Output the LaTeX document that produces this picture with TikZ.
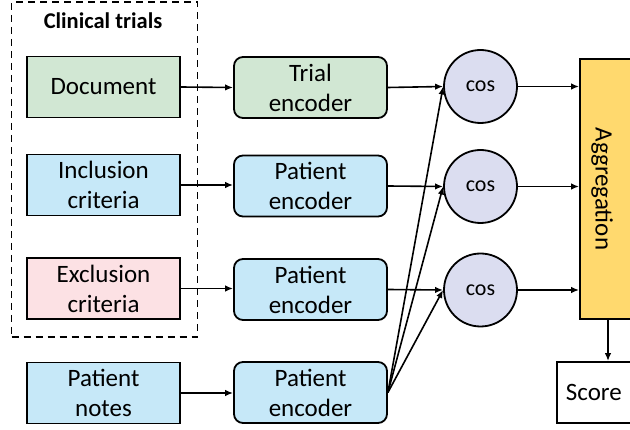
\documentclass[tikz,border=0pt]{standalone}
\usepackage{fontspec}
\setmainfont{Carlito}
\usetikzlibrary{arrows.meta,calc}
\definecolor{trialgreen}{RGB}{209,231,211}
\definecolor{patblue}{RGB}{198,232,248}
\definecolor{exclpink}{RGB}{252,225,228}
\definecolor{coslav}{RGB}{219,221,240}
\definecolor{aggyellow}{RGB}{255,217,110}
\tikzset{
  every node/.style={font=\fontsize{25}{30}\selectfont, text=black},
  inbox/.style={draw=black, line width=1.8pt, minimum width=153pt, minimum height=61pt, align=center, inner sep=0pt},
  encbox/.style={draw=black, line width=1.8pt, rounded corners=9pt, minimum width=153pt, minimum height=61pt, align=center, inner sep=0pt},
  cosnode/.style={circle, draw=black, line width=1.8pt, fill=coslav, minimum size=73pt, inner sep=0pt, font=\fontsize{22}{26}\selectfont},
  arr/.style={line width=1.6pt, -{Latex[length=8pt,width=6.5pt]}},
  groupbox/.style={draw=black, line width=1.8pt, dash pattern=on 7pt off 5pt},
}
\begin{document}
\begin{tikzpicture}[x=1pt, y=-1pt]
  \useasboundingbox (0,0) rectangle (630,430);
  \clip (0,0) rectangle (630,430);
  \fill[white] (0,0) rectangle (630,430);

  % clinical trial group
  \node[groupbox, minimum width=186pt, minimum height=335pt, inner sep=0pt] (group) at (104.5,169.5) {};
  \node[font=\fontsize{22.5}{27}\selectfont\bfseries] (grouptitle) at (103,21) {Clinical trials};

  % inputs
  \node[inbox, fill=trialgreen] (doc)   at (103.5,87)  {Document};
  \node[inbox, fill=patblue]    (incl)  at (103.5,185) {Inclusion\\criteria};
  \node[inbox, fill=exclpink]   (excl)  at (103.5,288.5) {Exclusion\\criteria};
  \node[inbox, fill=patblue]    (notes) at (103.5,393) {Patient\\notes};

  % encoders
  \node[encbox, fill=trialgreen] (enc1) at (310.5,87.5)  {Trial\\encoder};
  \node[encbox, fill=patblue]    (enc2) at (310.5,186)   {Patient\\encoder};
  \node[encbox, fill=patblue]    (enc3) at (310.5,289.5) {Patient\\encoder};
  \node[encbox, fill=patblue]    (enc4) at (310.5,392.5) {Patient\\encoder};

  % similarity
  \node[cosnode] (cos1) at (480.5,86.5)  {cos};
  \node[cosnode] (cos2) at (480.5,186.5) {cos};
  \node[cosnode] (cos3) at (480.5,290)   {cos};

  % aggregation and score
  \node[draw=black, line width=1.8pt, fill=aggyellow, minimum width=90pt, minimum height=260pt, inner sep=0pt] (aggr) at (625,189) {};
  \node[rotate=-90] (aggrlabel) at (602,189) {Aggregation};
  \node[draw=black, line width=1.8pt, fill=white, anchor=west, text width=80pt, inner xsep=9pt, inner ysep=0pt, minimum height=61pt, align=left] (score) at (556,392.5) {Score};

  % connectors
  \draw[arr] (doc.east)   -- (enc1.west);
  \draw[arr] (incl.east)  -- (enc2.west |- incl.east);
  \draw[arr] (excl.east)  -- (enc3.west |- excl.east);
  \draw[arr] (notes.east) -- (enc4.west |- notes.east);

  \draw[arr] (enc1.east) -- (cos1.west);
  \draw[arr] (enc2.east) -- (cos2.west);
  \draw[arr] (enc3.east) -- (cos3.west);
  \draw[arr] (enc4.east) -- (cos1.west);
  \draw[arr] (enc4.east) -- (cos2.west);
  \draw[arr] (enc4.east) -- (cos3.west);

  \draw[arr] (cos1.east) -- (cos1.east -| aggr.west);
  \draw[arr] (cos2.east) -- (cos2.east -| aggr.west);
  \draw[arr] (cos3.east) -- (cos3.east -| aggr.west);

  \draw[arr] (aggr.south -| 608,0) -- (score.north -| 608,0);
\end{tikzpicture}
\end{document}
